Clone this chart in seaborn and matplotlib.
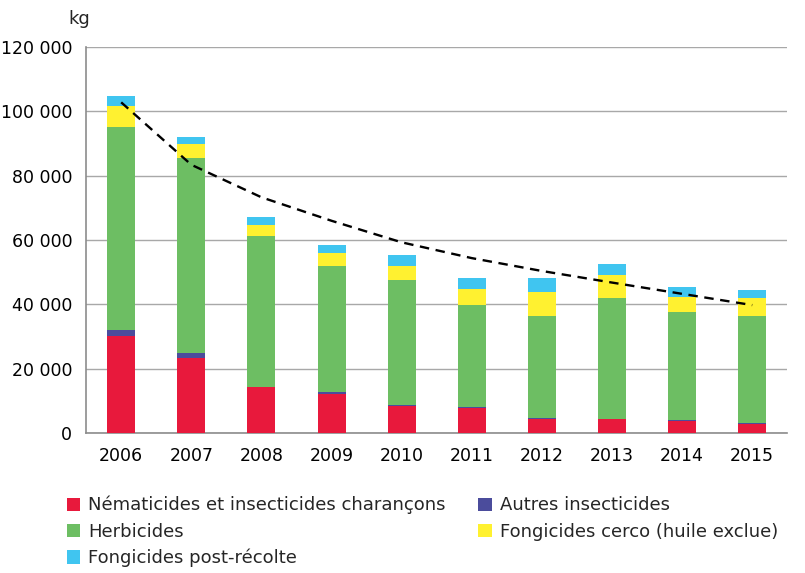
import numpy as np
import pandas as pd
import seaborn as sns
import matplotlib.pyplot as plt
from matplotlib.patches import Patch
from matplotlib.ticker import FuncFormatter, FixedLocator

years = ['2006', '2007', '2008', '2009', '2010', '2011', '2012', '2013', '2014', '2015']
nematicides = [30200, 23400, 14200, 12300, 8500, 7900, 4400, 4400, 3900, 3000]
autres_insect = [2000, 1400, 200, 500, 400, 200, 300, 100, 100, 100]
herbicides = [63000, 60800, 46800, 39200, 38800, 31700, 31800, 37400, 33500, 33300]
fong_cerco = [6500, 4400, 3500, 4000, 4300, 5000, 7400, 7300, 4900, 5500]
fong_post = [3100, 1900, 2500, 2400, 3500, 3500, 4400, 3300, 2900, 2500]
trend = [102800, 83400, 73300, 66000, 59300, 54400, 50400, 46800, 43300, 39800]

labels = ['Nématicides et insecticides charançons', 'Autres insecticides', 'Herbicides',
          'Fongicides cerco (huile exclue)', 'Fongicides post-récolte']
colors = ['#E8193C', '#4B4C9C', '#6DBE63', '#FFF130', '#40C5F0']
series = [nematicides, autres_insect, herbicides, fong_cerco, fong_post]

sns.set_style("white")
plt.rcParams['font.family'] = ['DejaVu Sans']

df = pd.DataFrame({'year': years})
cum = np.zeros(len(years))
for i, s in enumerate(series):
    cum = cum + np.array(s)
    df[f'c{i}'] = cum

fig = plt.figure(figsize=(8.05, 5.73), dpi=100)
ax = fig.add_axes([0.107, 0.244, 0.871, 0.674])

# draw tallest cumulative first so lower layers sit on top
for i in reversed(range(len(series))):
    sns.barplot(data=df, x='year', y=f'c{i}', color=colors[i], width=0.4,
                saturation=1, ax=ax, zorder=3, linewidth=0)

ax.plot(range(len(years)), trend, color='black', linestyle=(0, (4, 2.8)), linewidth=1.7, zorder=4)

ax.set_xlim(-0.5, len(years) - 0.5)
ax.set_ylim(0, 120000)
ax.set_yticks(np.arange(0, 120001, 20000))
ax.yaxis.set_major_formatter(FuncFormatter(lambda v, p: f'{int(v):,}'.replace(',', ' ')))
ax.grid(True, axis='y', color='#A8A8A8', linewidth=1, zorder=0)
ax.set_axisbelow(True)
ax.set_xlabel('')
ax.set_ylabel('')

for sp in ['top', 'right']:
    ax.spines[sp].set_visible(False)
for sp in ['left', 'bottom']:
    ax.spines[sp].set_color('#8C8C8C')
    ax.spines[sp].set_linewidth(1.2)

ax.xaxis.set_minor_locator(FixedLocator(np.arange(-0.5, len(years), 1.0)))
ax.tick_params(axis='x', which='major', length=0, labelsize=12.5, pad=10, colors='black')
ax.tick_params(axis='x', which='minor', length=6, width=1.2, color='#8C8C8C', direction='out')
ax.tick_params(axis='y', length=6, width=1.2, color='#8C8C8C', labelsize=12.5, pad=4, labelcolor='black')

fig.text(0.085, 0.967, 'kg', fontsize=13, ha='left', va='center')

handles = [Patch(facecolor=c, edgecolor='none') for c in colors]
order = [0, 2, 4, 1, 3]
fig.legend([handles[i] for i in order], [labels[i] for i in order], ncol=2,
           loc='upper left', bbox_to_anchor=(0.074, 0.147), frameon=False, fontsize=13,
           handlelength=0.75, handleheight=0.75, handletextpad=0.45, columnspacing=1.8,
           labelspacing=0.45, borderaxespad=0)

fig.savefig('out.png', dpi=100)
